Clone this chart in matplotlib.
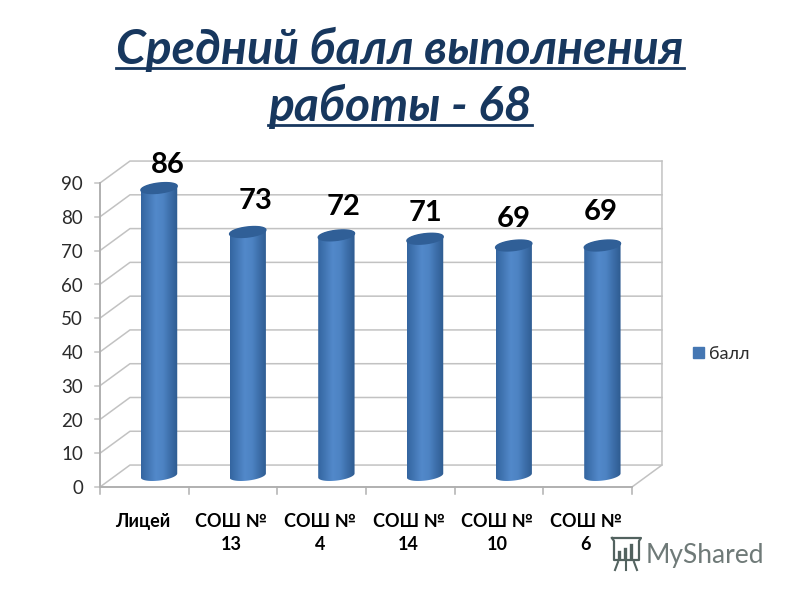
import numpy as np
import matplotlib
matplotlib.use('Agg')
import matplotlib.pyplot as plt
from matplotlib.path import Path
from matplotlib.patches import Patch, PathPatch
from matplotlib.colors import LinearSegmentedColormap

categories = ['Лицей', 'СОШ №\n13', 'СОШ №\n4', 'СОШ №\n14', 'СОШ №\n10', 'СОШ №\n6']
values = [86, 73, 72, 71, 69, 69]
y_ticks = list(range(0, 100, 10))
series_name = 'балл'
title = ['Средний балл выполнения', 'работы - 68']

# manual shift of the value labels, in points
label_dx = [6, 6, 5, 0, 0, -1]
label_dy = [7, 13, 11, 9, 10, 15]

plt.rcParams['font.family'] = ['Lato', 'Open Sans', 'DejaVu Sans']

W, H = 800, 600
fig = plt.figure(figsize=(8, 6), dpi=100, facecolor='white')
ax = fig.add_axes([100 / W, 1 - 487 / H, 532 / W, 304 / H])
ax.set_xlim(0, 6)
ax.set_ylim(0, 90)
ax.axis('off')

grid_c = '#c2c2c2'
dx, dy = 0.338, 6.5   # depth of the 3d box
n = len(categories)

for v in y_ticks:
    ax.plot([0, dx, n + dx], [v, v + dy, v + dy], color=grid_c, lw=1.1, clip_on=False, zorder=1)
    ax.plot([-0.06, 0], [v, v], color=grid_c, lw=1.1, clip_on=False, zorder=1)
    ax.text(-0.19, v - 0.5, str(v), ha='right', va='center', fontsize=13.5, color='#2b2b2b', clip_on=False)
ax.plot([n, n + dx, n + dx], [0, dy, 90 + dy], color=grid_c, lw=1.1, clip_on=False, zorder=1)
ax.plot([0, n], [0, 0], color='#b0b0b0', lw=1.4, clip_on=False, zorder=1)
ax.plot([0, 0], [0, 90], color='#b0b0b0', lw=1.4, clip_on=False, zorder=1)
for i in range(n + 1):
    ax.plot([i, i], [0, -2.2], color='#b0b0b0', lw=1.1, clip_on=False, zorder=1)
for i, name in enumerate(categories):
    ax.text(i + 0.5 - 0.02, -7.6, name, ha='center', va='top', fontsize=13, fontweight='bold',
            color='black', linespacing=1.45, clip_on=False)

# cylinders
body = LinearSegmentedColormap.from_list('body', ['#34659f', '#4377b5', '#5289ca', '#4d83c3', '#3c6ea9', '#2e5b90'])
grad = np.linspace(0, 1, 128).reshape(1, -1)
half_w = 0.205
b = 1.5      # ellipse half height
tilt = 0.6
t = np.linspace(0, np.pi, 40)
for i, v in enumerate(values):
    cx = i + 0.5 + 0.166
    base = 3.4
    top = v + 2.5
    xs = cx - half_w * np.cos(t)
    lower = base - b * np.sin(t) + tilt * (-np.cos(t))
    upper = top + b * np.sin(t) + tilt * (-np.cos(t))
    verts = list(zip(xs, lower)) + list(zip(xs[::-1], upper[::-1])) + [(xs[0], lower[0])]
    codes = [Path.MOVETO] + [Path.LINETO] * (len(verts) - 2) + [Path.CLOSEPOLY]
    im = ax.imshow(grad, cmap=body, extent=[cx - half_w, cx + half_w, base - 3, top + 3],
                   aspect='auto', zorder=3, clip_on=True)
    patch = PathPatch(Path(verts, codes), transform=ax.transData, fc='none', ec='none')
    ax.add_patch(patch)
    im.set_clip_path(patch)
    cap_x = cx + half_w * np.cos(2 * t)
    cap_y = top + b * np.sin(2 * t) + tilt * np.cos(2 * t)
    ax.fill(cap_x, cap_y, color='#305f97', zorder=4, clip_on=False)
    ax.annotate(str(v), (cx, top), xytext=(label_dx[i], label_dy[i]), textcoords='offset points',
                ha='center', va='bottom', fontsize=21, fontweight='bold', color='black', zorder=5,
                annotation_clip=False)
ax.set_xlim(0, 6)
ax.set_ylim(0, 90)

leg = fig.legend(handles=[Patch(color='#4577b3', label=series_name)], loc='center left',
                 bbox_to_anchor=(677 / W, 1 - 354 / H), frameon=False, fontsize=13,
                 handlelength=0.6, handleheight=0.6, handletextpad=0.25, labelcolor='#2b2b2b')

# title, underlined by hand
navy = '#17375e'
rend = fig.canvas.get_renderer()
for line, yc, under in zip(title, [49, 106], [68, 125]):
    txt = fig.text(400 / W, 1 - yc / H, line, ha='center', va='center', fontsize=34.6, fontweight='bold',
                   fontstyle='italic', color=navy)
    bb = txt.get_window_extent(rend)
    uy = 1 - under / H
    fig.add_artist(plt.Line2D([bb.x0 / W, bb.x1 / W], [uy, uy], color=navy, lw=2.0))

# watermark
fig.text(646 / W, 1 - 555 / H, 'MyShared', ha='left', va='center', fontsize=19, color='#6f7a78')
icon = fig.add_axes([608 / W, 1 - 572 / H, 34 / W, 36 / H])
icon.set_xlim(0, 34)
icon.set_ylim(36, 0)
icon.axis('off')
icon.plot([4, 33, 31, 31, 6, 6, 4], [2, 2, 5, 24, 24, 5, 2], color='#52625f', lw=1.6)
for x0, h in zip([11, 17, 23], [5, 8, 12]):
    icon.plot([x0, x0], [21, 21 - h], color='#52625f', lw=2.4)
icon.plot([10, 7], [26, 34], color='#52625f', lw=1.5)
icon.plot([18, 18], [26, 34], color='#52625f', lw=1.5)
icon.plot([26, 29], [26, 34], color='#52625f', lw=1.5)

fig.savefig('out.png', dpi=100, facecolor='white')
